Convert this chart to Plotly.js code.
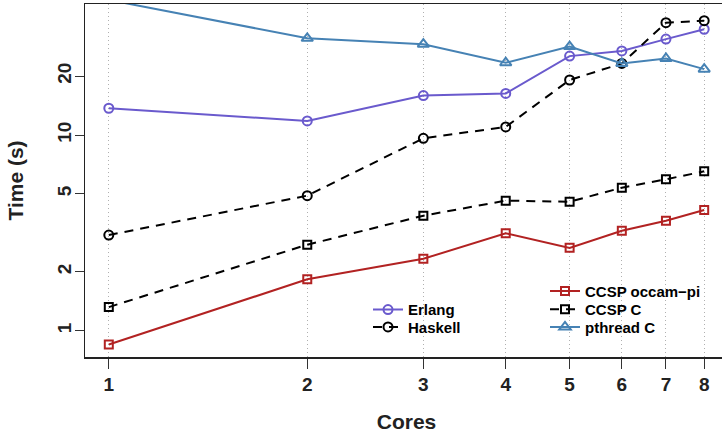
<!DOCTYPE html>
<html>
<head>
<meta charset="utf-8">
<script src="https://cdn.plot.ly/plotly-3.0.1.min.js"></script>
<style>
html, body { margin: 0; padding: 0; overflow: hidden; background: #fff; }
#chart { width: 730px; height: 435px; }
</style>
</head>
<body>
<div id="chart"></div>
<script>
const cores = [1, 2, 3, 4, 5, 6, 7, 8];
const coreLabels = ["1", "2", "3", "4", "5", "6", "7", "8"];
const erlang = [13.7, 11.8, 15.9, 16.3, 25.3, 26.9, 30.9, 34.7];
const haskell = [3.08, 4.90, 9.62, 11.0, 19.1, 23.2, 37.5, 38.4];
const occamPi = [0.85, 1.83, 2.33, 3.15, 2.65, 3.24, 3.65, 4.14];
const ccspC = [1.32, 2.75, 3.87, 4.62, 4.56, 5.38, 5.94, 6.52];
const pthreadC = [49, 31.2, 29.1, 23.4, 28.3, 23.2, 24.6, 21.7];
const seriesNames = ["Erlang", "Haskell", "CCSP occam\u2212pi", "CCSP C", "pthread C"];
const yTickVals = [1, 2, 5, 10, 20];
const yTickText = ["1", "2", "5", "10", "20"];
const yGridVals = [1, 10];

const FONT = "Liberation Sans, Arial, sans-serif";

function series(name, y, color, symbol, size, dash, legend) {
  return {
    x: cores, y: y, name: name, type: "scatter", mode: "lines+markers",
    line: { color: color, width: 2, dash: dash },
    marker: { symbol: symbol, size: size, color: color, line: { color: color, width: 2 } },
    legend: legend, cliponaxis: true
  };
}

const DASH = "9px,7px";
const data = [
  series(seriesNames[0], erlang, "#6A5ACD", "circle-open", 9, "solid", "legend"),
  series(seriesNames[1], haskell, "#000000", "circle-open", 9, DASH, "legend2"),
  series(seriesNames[2], occamPi, "#B22222", "square-open", 8, "solid", "legend3"),
  series(seriesNames[3], ccspC, "#000000", "square-open", 8, DASH, "legend4"),
  series(seriesNames[4], pthreadC, "#4682B4", "triangle-up-open", 10, "solid", "legend5")
];

const W = 730, H = 435;
const L = 85, R = 2, T = 4, B = 78;
const pw = W - L - R, ph = H - T - B;
function px(xp) { return (xp - L) / pw; }
function py(yp) { return (H - B - yp) / ph; }

const legendFont = { family: FONT, size: 15, color: "#000", weight: "bold" };
function leg(xp, yp) {
  return {
    x: px(xp), y: py(yp), xanchor: "left", yanchor: "top",
    bgcolor: "rgba(0,0,0,0)", borderwidth: 0,
    font: legendFont, itemclick: false, tracegroupgap: 0
  };
}

const layout = {
  width: W, height: H,
  margin: { l: L, r: R, t: T, b: B, pad: 0 },
  paper_bgcolor: "#fff", plot_bgcolor: "#fff",
  showlegend: true,
  font: { family: FONT, color: "#000", weight: "bold" },
  xaxis: {
    type: "log", range: [-0.0361, 0.9392],
    tickvals: cores, ticktext: coreLabels,
    ticks: "outside", ticklen: 10, tickwidth: 1, tickcolor: "#333",
    tickfont: { family: FONT, size: 19, color: "#222", weight: "bold" },
    showgrid: true, gridcolor: "#b0b0b0", gridwidth: 1, griddash: "1px,3px",
    showline: true, linecolor: "#222", linewidth: 1.5, mirror: true,
    zeroline: false,
    title: { text: "Cores", font: { family: FONT, size: 21, color: "#222", weight: "bold" }, standoff: 20 }
  },
  yaxis: {
    type: "log", range: [-0.1344, 1.6694],
    tickvals: yTickVals, ticktext: yTickText, tickangle: -90,
    ticks: "outside", ticklen: 9, tickwidth: 1, tickcolor: "#333",
    tickfont: { family: FONT, size: 19, color: "#222", weight: "bold" },
    ticklabelstandoff: -4,
    showgrid: false,
    showline: true, linecolor: "#222", linewidth: 1.5, mirror: false,
    zeroline: false,
    title: { text: "Time (s)", font: { family: FONT, size: 21, color: "#222", weight: "bold" }, standoff: 24 }
  },
  yaxis2: {
    type: "log", range: [-0.1344, 1.6694], overlaying: "y", side: "left",
    tickvals: yGridVals, showticklabels: false, ticks: "",
    showgrid: true, gridcolor: "#b0b0b0", gridwidth: 1, griddash: "1px,3px",
    showline: false, zeroline: false
  },
  legend: leg(368, 293.3),
  legend2: leg(368, 310.7),
  legend3: leg(545, 274.7),
  legend4: leg(545, 293),
  legend5: leg(545, 310.7)
};

Plotly.newPlot("chart", data, layout, { displayModeBar: false, staticPlot: true });
</script>
</body>
</html>
